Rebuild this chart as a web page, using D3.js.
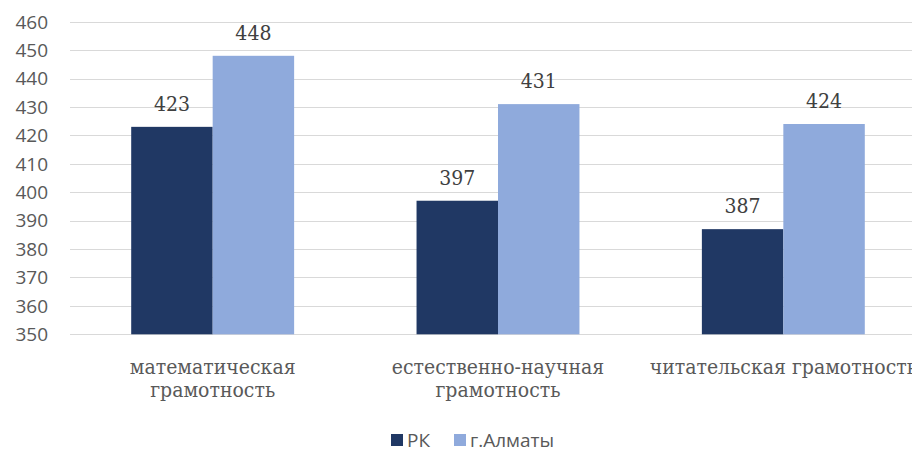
<!DOCTYPE html>
<html lang="ru">
<head>
  <meta charset="UTF-8">
  <title>Bar chart</title>
  <style>
    body { margin: 0; background: #fff; }
    svg { display: block; }
    .tick-label { font-family: "Open Sans", "Liberation Sans", sans-serif; font-size: 19px; fill: #595959; }
    .value-label { font-family: "DejaVu Serif Condensed", "DejaVu Serif", serif; font-stretch: condensed; font-size: 21px; fill: #404040; }
    .cat-label { font-family: "DejaVu Serif Condensed", "DejaVu Serif", serif; font-stretch: condensed; font-size: 21px; fill: #595959; }
    .legend-label { font-family: "Open Sans", "Liberation Sans", sans-serif; font-size: 19px; fill: #595959; }
  </style>
</head>
<body>
  <svg id="chart" width="912" height="453"></svg>
  <script src="https://d3js.org/d3.v7.min.js"></script>
  <script>
    // data
    const categories = [
      ["математическая", "грамотность"],
      ["естественно-научная", "грамотность"],
      ["читательская грамотность"]
    ];
    const seriesNames = ["РК", "г.Алматы"];
    const valuesRK = [423, 397, 387];
    const valuesAlmaty = [448, 431, 424];
    const yTicks = [350, 360, 370, 380, 390, 400, 410, 420, 430, 440, 450, 460];
    const colors = ["#203864", "#8FAADC"];

    const svg = d3.select("#chart");
    // plot area runs past the right edge, like the source image (cropped)
    const plot = { left: 70, right: 926, top: 21.7, bottom: 334.3 };

    const y = d3.scaleLinear().domain([350, 460]).range([plot.bottom, plot.top]);
    const x0 = d3.scaleBand().domain(d3.range(categories.length)).range([plot.left, plot.right]);
    const groupW = x0.bandwidth() * 0.571;
    const x1 = d3.scaleBand().domain(seriesNames).range([0, groupW]);

    // gridlines
    svg.append("g").selectAll("line")
      .data(yTicks)
      .join("line")
        .attr("x1", plot.left)
        .attr("x2", 912)
        .attr("y1", d => Math.round(y(d)) + 0.5)
        .attr("y2", d => Math.round(y(d)) + 0.5)
        .attr("stroke", "#d9d9d9")
        .attr("stroke-width", 1);

    // y tick labels
    svg.append("g").selectAll("text")
      .data(yTicks)
      .join("text")
        .attr("class", "tick-label")
        .attr("x", 48)
        .attr("y", d => y(d))
        .attr("dy", "0.36em")
        .attr("text-anchor", "end")
        .text(d => d);

    const rows = categories.map((c, i) => ({ i, vals: [valuesRK[i], valuesAlmaty[i]] }));

    const groups = svg.append("g").selectAll("g")
      .data(rows)
      .join("g")
        .attr("transform", d => `translate(${x0(d.i) + (x0.bandwidth() - groupW) / 2},0)`);

    groups.selectAll("rect")
      .data(d => d.vals.map((v, k) => ({ k, v })))
      .join("rect")
        .attr("x", d => x1(seriesNames[d.k]))
        .attr("width", x1.bandwidth())
        .attr("y", d => y(d.v))
        .attr("height", d => y(350) - y(d.v))
        .attr("fill", d => colors[d.k]);

    groups.selectAll("text")
      .data(d => d.vals.map((v, k) => ({ k, v })))
      .join("text")
        .attr("class", "value-label")
        .attr("x", d => x1(seriesNames[d.k]) + x1.bandwidth() / 2)
        .attr("y", d => y(d.v) - 16)
        .attr("text-anchor", "middle")
        .text(d => d.v);

    // category labels
    const cat = svg.append("g").selectAll("text")
      .data(categories)
      .join("text")
        .attr("class", "cat-label")
        .attr("text-anchor", "middle")
        .attr("x", (d, i) => x0(i) + x0.bandwidth() / 2)
        .attr("y", 374);
    cat.selectAll("tspan")
      .data(d => d)
      .join("tspan")
        .attr("x", function () { return d3.select(this.parentNode).attr("x"); })
        .attr("dy", (d, j) => j === 0 ? 0 : 23)
        .text(d => d);

    // legend
    const legend = svg.append("g").attr("transform", "translate(391,440)");
    const legendX = [0, 63];
    seriesNames.forEach((name, k) => {
      const g = legend.append("g").attr("transform", `translate(${legendX[k]},0)`);
      g.append("rect").attr("x", 0).attr("y", -6).attr("width", 12).attr("height", 12).attr("fill", colors[k]);
      g.append("text").attr("class", "legend-label").attr("x", 16).attr("y", 0).attr("dy", "0.36em").text(name);
    });
  </script>
</body>
</html>
